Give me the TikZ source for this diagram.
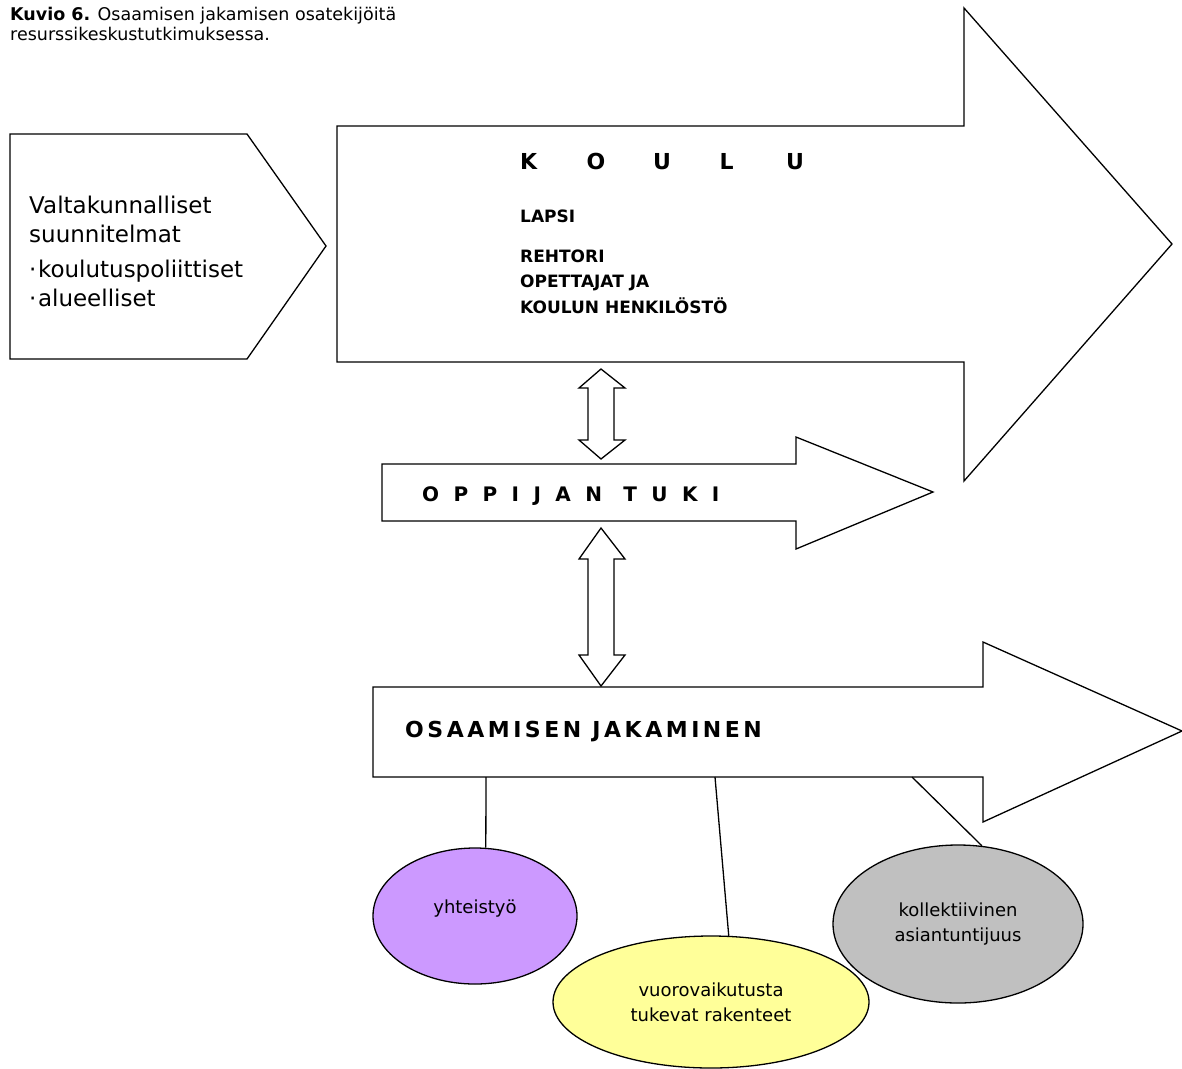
\documentclass[tikz,border=0pt]{standalone}
\usepackage{fontspec}
\setmainfont{DejaVu Sans}
\newfontfamily\trackwide[LetterSpace=72]{DejaVu Sans}
\newfontfamily\trackmid[LetterSpace=16]{DejaVu Sans}
\usetikzlibrary{shapes.geometric}
\definecolor{lilac}{HTML}{CC99FF}
\definecolor{paleyellow}{HTML}{FFFF99}
\definecolor{midgray}{HTML}{C0C0C0}
\tikzset{
  outline/.style={draw=black, line width=1.3pt, fill=white, line join=miter},
  txt/.style={inner sep=0pt, anchor=base west},
  bubble/.style={ellipse, draw=black, line width=1.3pt, inner sep=0pt, align=center,
    font=\fontsize{18}{25}\selectfont},
  link/.style={draw=black, line width=1.3pt}
}
\begin{document}
\begin{tikzpicture}[x=1pt, y=-1pt]
\useasboundingbox (0,0) rectangle (1182,1068);

% caption
\node[txt, font=\fontsize{17.5}{20}\selectfont] (cap1) at (10,20) {\textbf{Kuvio 6.} Osaamisen jakamisen osatekijöitä};
\node[txt, font=\fontsize{17.5}{20}\selectfont] (cap2) at (10,40) {resurssikeskustutkimuksessa.};

% national plans pentagon
\draw[outline] (10,134) -- (247,134) -- (326,246) -- (247,359) -- (10,359) -- cycle;
\node[txt, font=\fontsize{23}{29}\selectfont] (plan1) at (29,213) {Valtakunnalliset};
\node[txt, font=\fontsize{23}{29}\selectfont] (plan2) at (29,242) {suunnitelmat};
\node[txt, font=\fontsize{23}{29}\selectfont] (plan3) at (29,277) {·\kern1.5pt koulutuspoliittiset};
\node[txt, font=\fontsize{23}{29}\selectfont] (plan4) at (29,306) {·\kern1.5pt alueelliset};

% school arrow
\draw[outline] (337,126) -- (964,126) -- (964,8) -- (1172,244) -- (964,481) -- (964,362) -- (337,362) -- cycle;
\node[txt, font=\fontsize{22}{26}\selectfont\bfseries] (koulu) at (520,169)
  {\makebox[66.5pt][l]{K}\makebox[66.5pt][l]{O}\makebox[66.5pt][l]{U}\makebox[66.5pt][l]{L}U};
\node[txt, font=\fontsize{17}{21}\selectfont\bfseries] (lapsi) at (520,222) {LAPSI};
\node[txt, font=\fontsize{17}{21}\selectfont\bfseries] (rehtori) at (520,262) {REHTORI};
\node[txt, font=\fontsize{17}{21}\selectfont\bfseries] (opett) at (520,287) {OPETTAJAT JA};
\node[txt, font=\fontsize{17}{21}\selectfont\bfseries] (henk) at (520,313) {KOULUN HENKILÖSTÖ};

% double arrow school <-> learner support
\draw[outline] (601,369) -- (625,388) -- (614,388) -- (614,440) -- (625,440) -- (601,459)
  -- (579,440) -- (588,440) -- (588,388) -- (579,388) -- cycle;

% learner support arrow
\draw[outline] (382,464) -- (796,464) -- (796,437) -- (933,492) -- (796,549) -- (796,521) -- (382,521) -- cycle;
\node[txt, font=\fontsize{20}{24}\selectfont\trackwide\bfseries] (tuki) at (422,501) {OPPIJAN TUKI};

% double arrow learner support <-> knowledge sharing
\draw[outline] (601,528) -- (625,559) -- (614,559) -- (614,655) -- (625,655) -- (601,686)
  -- (579,655) -- (588,655) -- (588,559) -- (579,559) -- cycle;

% knowledge sharing arrow
\draw[outline] (373,687) -- (983,687) -- (983,642) -- (1182,731) -- (983,822) -- (983,777) -- (373,777) -- cycle;
\node[txt, font=\fontsize{22}{26}\selectfont\trackmid\bfseries] (jako) at (405,737) {OSAAMISEN JAKAMINEN};

% components
\node[bubble, fill=lilac, minimum width=204pt, minimum height=136pt] (yht) at (475,916) {};
\node[inner sep=0pt, font=\fontsize{18}{25}\selectfont] (yhtlbl) at (475,909) {yhteistyö};
\node[bubble, fill=paleyellow, minimum width=316pt, minimum height=132pt] (vuo) at (711,1002)
  {vuorovaikutusta\\tukevat rakenteet};
\node[bubble, fill=midgray, minimum width=250pt, minimum height=158pt] (kol) at (958,924)
  {kollektiivinen\\asiantuntijuus};

\coordinate (j1) at (486,777);
\coordinate (j2) at (715,777);
\coordinate (j3) at (912,777);
\draw[link] (j1) -- (yht.81);
\draw[link] (j2) -- (vuo.75);
\draw[link] (j3) -- (kol.73);
\end{tikzpicture}
\end{document}
